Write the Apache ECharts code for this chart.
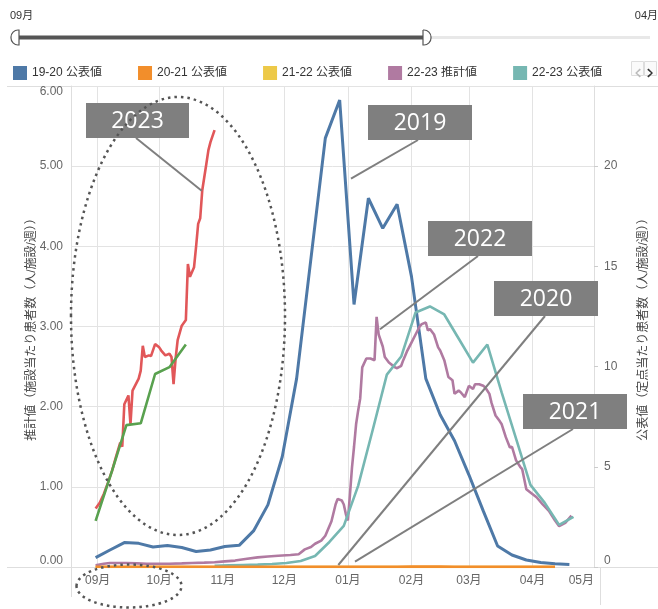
<!DOCTYPE html>
<html><head><meta charset="utf-8">
<script src="https://cdn.jsdelivr.net/npm/echarts@6/dist/echarts.min.js"></script>
<style>html,body{margin:0;padding:0;background:#fff}#c{width:658px;height:609px}</style>
</head><body><div id="c"></div>
<script>
// ---- data ----
const seriesNames = ['19-20 公表値','20-21 公表値','21-22 公表値','22-23 推計値','22-23 公表値','23-24 推計値','23-24 公表値'];
const seriesColors = ['#4e79a7','#f28e2b','#edc948','#b07aa1','#76b7b2','#e15759','#59a14f'];

const weeklyDates = ['08-31','09-07','09-14','09-21','09-28','10-05','10-12','10-19','10-26','11-02','11-09','11-16','11-23','11-30','12-07','12-14','12-21','12-28','01-04','01-11','01-18','01-25','02-01','02-08','02-15','02-22','03-01','03-08','03-15','03-22','03-29','04-05','04-12','04-19'];

const s1920Values = [0.47,0.85,1.22,1.18,1.0,1.07,0.97,0.77,0.85,1.02,1.08,1.8,3.1,5.5,9.4,15.4,21.4,23.3,13.1,18.4,16.9,18.1,14.5,9.4,7.6,6.3,4.6,2.8,1.05,0.6,0.35,0.22,0.16,0.12];
const s2021Values = [0.01,0.01,0.01,0.01,0.01,0.01,0.01,0.01,0.01,0.01,0.01,0.01,0.01,0.01,0.01,0.01,0.01,0.01,0.01,0.01,0.01,0.01,0.02,0.02,0.02,0.01,0.01,0.01,0.01,0.01,0.01,0.01,0.01];
const s2122Values = [0.00,0.00,0.00,0.00,0.00,0.00,0.00,0.00,0.00,0.00,0.00,0.00,0.00,0.00,0.00,0.00,0.00,0.00,0.00,0.00,0.00,0.00,0.00,0.00,0.00,0.00,0.00,0.00,0.00,0.00,0.00,0.00,0.00];

const s2223EstDates = ['08-31','09-04','09-07','09-11','09-15','09-20','09-25','10-01','10-06','10-12','10-17','10-23','10-28','11-02','11-07','11-12','11-18','11-23','11-28','12-04','12-08','12-11','12-14','12-16','12-19','12-21','12-24','12-26','12-27','12-29','12-30','12-31','01-01','01-02','01-03','01-04','01-05','01-06','01-07','01-08','01-10','01-12','01-14','01-15','01-16','01-18','01-19','01-21','01-24','01-25','01-27','01-28','01-30','02-01','02-03','02-05','02-06','02-08','02-09','02-10','02-12','02-14','02-15','02-17','02-19','02-21','02-22','02-24','02-25','02-27','03-01','03-03','03-04','03-06','03-08','03-09','03-11','03-12','03-14','03-16','03-17','03-19','03-21','03-22','03-24','03-26','03-27','03-29','03-31','04-03','04-06','04-09','04-12','04-14','04-17','04-20'];
const s2223EstValues = [0.02,0.04,0.05,0.05,0.05,0.045,0.04,0.04,0.04,0.045,0.05,0.055,0.06,0.07,0.08,0.10,0.12,0.13,0.14,0.15,0.16,0.22,0.25,0.29,0.33,0.39,0.57,0.78,0.85,0.83,0.78,0.66,0.58,0.9,1.24,1.5,1.78,1.95,2.1,2.49,2.6,2.6,2.58,3.12,2.9,2.75,2.62,2.55,2.49,2.48,2.51,2.58,2.7,2.8,2.9,3.0,3.03,3.05,2.95,2.97,2.9,2.74,2.7,2.58,2.37,2.33,2.16,2.2,2.18,2.12,2.26,2.22,2.28,2.28,2.26,2.24,2.16,2.05,1.89,1.82,1.78,1.62,1.49,1.5,1.33,1.25,1.22,0.97,0.93,0.87,0.78,0.7,0.58,0.51,0.55,0.64];

const s2223PubDates = ['10-28','11-04','11-11','11-18','11-25','12-02','12-09','12-16','12-23','12-30','01-06','01-13','01-20','01-27','02-03','02-10','02-17','02-24','03-03','03-10','03-17','03-24','03-31','04-07','04-14','04-21'];
const s2223PubValues = [0.06,0.08,0.1,0.12,0.15,0.2,0.3,0.55,1.25,2.05,4.05,6.8,9.6,10.5,12.7,13.0,12.6,11.4,10.2,11.1,8.7,6.4,4.1,3.2,2.1,2.5];

const s2324EstDates = ['08-31','09-02','09-04','09-06','09-08','09-10','09-12','09-13','09-14','09-16','09-17','09-18','09-21','09-22','09-23','09-24','09-26','09-27','09-29','10-01','10-02','10-04','10-06','10-07','10-08','10-09','10-10','10-12','10-14','10-15','10-16','10-18','10-19','10-20','10-21','10-22','10-24','10-25','10-26','10-28'];
const s2324EstValues = [0.73,0.80,0.91,1.05,1.2,1.38,1.55,1.5,2.03,2.14,1.78,2.2,2.35,2.45,2.76,2.62,2.64,2.63,2.78,2.74,2.70,2.64,2.66,2.62,2.28,2.6,2.83,3.01,3.08,3.78,3.62,3.74,4.0,4.28,4.35,4.7,5.03,5.2,5.3,5.45];

const s2324PubDates = ['08-31','09-08','09-15','09-22','09-29','10-06','10-14'];
const s2324PubValues = [2.3,4.8,7.08,7.17,9.63,9.97,11.1];

const leftTicks = [0,1,2,3,4,5,6];
const rightTicks = [0,5,10,15,20];
const annotations = [
  {text:'2023', box:[86,103,103,35], line:[136,138,201.7,190.7]},
  {text:'2019', box:[368,105,104,35], line:[418,140,351,178.7]},
  {text:'2022', box:[428,221,104,35], line:[478,256,380,329.3]},
  {text:'2020', box:[494,281,104,35], line:[545,316,338.3,565]},
  {text:'2021', box:[523,394,104,35], line:[573,429,355,561.7]}
];

// ---- helpers ----
function toTime(md){
  const p = md.split('-').map(Number);
  const y = p[0] >= 8 ? 2022 : 2023;
  return new Date(y, p[0]-1, p[1]).getTime();
}
function pairs(dates, vals){ return vals.map((v,i)=>[toTime(dates[i]), v]); }

const FONT = "'Liberation Sans','Noto Sans CJK JP',sans-serif";
const chart = echarts.init(document.getElementById('c'), null, {renderer:'canvas'});

const seriesData = [
  pairs(weeklyDates, s1920Values),
  pairs(weeklyDates, s2021Values),
  pairs(weeklyDates, s2122Values),
  pairs(s2223EstDates, s2223EstValues),
  pairs(s2223PubDates, s2223PubValues),
  pairs(s2324EstDates, s2324EstValues),
  pairs(s2324PubDates, s2324PubValues)
];
const axisIdx = [1,1,1,0,1,0,1];
const zs = [2,3,1,2,2,2,2];

const series = seriesNames.map((n,i)=>({
  name:n, type:'line', data:seriesData[i], yAxisIndex:axisIdx[i],
  showSymbol:false, symbol:'none', smooth:false, z:zs[i],
  color:seriesColors[i],
  lineStyle:{width: i===0?3:2.6, color:seriesColors[i]}
}));

const graphics = [];
// slider
graphics.push({type:'text', left:10, top:10, style:{text:'09月', fill:'#333', font:'11px '+FONT}});
graphics.push({type:'text', right:0, top:10, style:{text:'04月', fill:'#333', font:'11px '+FONT}});
graphics.push({type:'rect', shape:{x:16,y:36,width:634,height:3}, style:{fill:'#e8e8e8'}});
graphics.push({type:'rect', shape:{x:16,y:35.5,width:410,height:4}, style:{fill:'#555'}});
graphics.push({type:'rect', shape:{x:11,y:30,width:8,height:15,r:[7,0,0,7]}, style:{fill:'#fff',stroke:'#555',lineWidth:1.2}});
graphics.push({type:'rect', shape:{x:423,y:30,width:8,height:15,r:[0,7,7,0]}, style:{fill:'#fff',stroke:'#555',lineWidth:1.2}});
// pager boxes
graphics.push({type:'rect', z:0, shape:{x:631.5,y:61.5,width:12,height:14}, style:{fill:'#fafafa',stroke:'#ddd',lineWidth:1}});
graphics.push({type:'rect', z:0, shape:{x:644.5,y:61.5,width:12,height:14}, style:{fill:'#fafafa',stroke:'#ddd',lineWidth:1}});
// frame extensions
const fl = '#dedede';
graphics.push({type:'line', shape:{x1:7,y1:86.5,x2:658,y2:86.5}, style:{stroke:fl,lineWidth:1}, z:0});
graphics.push({type:'line', shape:{x1:7,y1:567.5,x2:658,y2:567.5}, style:{stroke:fl,lineWidth:1}, z:0});
graphics.push({type:'line', shape:{x1:71.5,y1:567,x2:71.5,y2:597}, style:{stroke:fl,lineWidth:1}, z:0});
graphics.push({type:'line', shape:{x1:600.5,y1:567,x2:600.5,y2:605}, style:{stroke:fl,lineWidth:1}, z:0});
// annotations
annotations.forEach(a=>{
  graphics.push({type:'line', z:100, shape:{x1:a.line[0],y1:a.line[1],x2:a.line[2],y2:a.line[3]}, style:{stroke:'#7f7f7f',lineWidth:2}});
  graphics.push({type:'rect', z:101, shape:{x:a.box[0],y:a.box[1],width:a.box[2],height:a.box[3]}, style:{fill:'#7f7f7f'}});
  graphics.push({type:'text', z:102, x:a.box[0]+a.box[2]/2, y:a.box[1]+a.box[3]/2+1,
    style:{text:a.text, fill:'#fff', font:"23px 'Open Sans','Noto Sans',sans-serif", align:'center', verticalAlign:'middle'}});
});
graphics.push({type:'ellipse', z:103, shape:{cx:178,cy:316,rx:107,ry:219}, style:{fill:'none',stroke:'#555',lineWidth:2.5,lineDash:[2.5,4]}});
graphics.push({type:'ellipse', z:103, shape:{cx:129,cy:586,rx:52.5,ry:21.5}, style:{fill:'none',stroke:'#555',lineWidth:2.5,lineDash:[2.5,4]}});

const option = {
  animation:false,
  textStyle:{fontFamily:FONT},
  color:seriesColors,
  legend:{
    type:'scroll', left:8, right:0, top:61, itemWidth:14, itemHeight:14, itemGap:36,
    icon:'rect', data:seriesNames, z:5,
    textStyle:{fontSize:12, color:'#333', fontFamily:FONT},
    pageFormatter:function(){return '';}, pageTextStyle:{fontSize:1, color:'rgba(0,0,0,0)'},
    pageButtonItemGap:2, pageButtonGap:12, pageButtonPosition:'end',
    pageIcons:{horizontal:['path://M8,0 L10,2 L4,7 L10,12 L8,14 L1,7 Z','path://M2,0 L0,2 L6,7 L0,12 L2,14 L9,7 Z']},
    pageIconSize:[6,9], pageIconColor:'#333', pageIconInactiveColor:'#bbb'
  },
  grid:{left:71, right:60, top:86, bottom:42, containLabel:false},
  xAxis:{
    type:'time', min:new Date(2022,7,19).getTime(), max:new Date(2023,4,1).getTime(),
    splitNumber:9,
    axisLine:{show:true, lineStyle:{color:'#dedede'}},
    axisTick:{show:false},
    splitLine:{show:true, lineStyle:{color:'#e3e3e3'}},
    axisLabel:{color:'#666', fontSize:12, margin:8, alignMaxLabel:'right', showMaxLabel:true,
      formatter:function(v){const d=new Date(v);const m=d.getMonth()+1;return (m<10?'0':'')+m+'月';}}
  },
  yAxis:[
    {type:'value', min:leftTicks[0], max:leftTicks[leftTicks.length-1], interval:1, position:'left',
     name:'推計値（施設当たり患者数（人/施設/週））', nameLocation:'middle', nameGap:33, nameRotate:90,
     nameMoveOverlap:false,
     nameTextStyle:{fontSize:12, color:'#444'},
     axisLine:{show:true, lineStyle:{color:'#dedede'}}, axisTick:{show:false},
     splitLine:{show:true, lineStyle:{color:'#e3e3e3'}},
     axisLabel:{color:'#666', fontSize:12, margin:8, formatter:v=>v.toFixed(2),
       verticalAlignMinLabel:'bottom', verticalAlignMaxLabel:'top'}},
    {type:'value', min:rightTicks[0], max:24, interval:5, position:'right',
     name:'公表値（定点当たり患者数（人/施設/週））', nameLocation:'middle', nameGap:44, nameRotate:90,
     nameMoveOverlap:false,
     nameTextStyle:{fontSize:12, color:'#444'},
     axisLine:{show:true, lineStyle:{color:'#dedede'}},
     axisTick:{show:true, length:4, lineStyle:{color:'#ccc'}},
     splitLine:{show:false},
     axisLabel:{color:'#666', fontSize:12, margin:10, showMaxLabel:false,
       verticalAlignMinLabel:'bottom'}}
  ],
  series:series,
  graphic:graphics
};
chart.setOption(option);
</script>
</body></html>
